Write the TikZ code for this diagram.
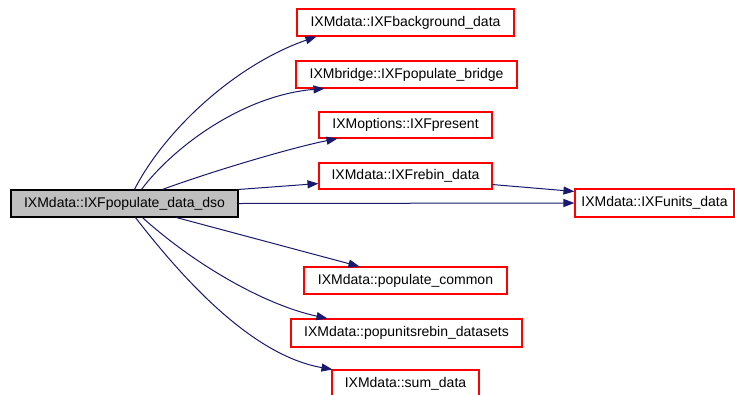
\documentclass[tikz,border=0pt]{standalone}
\usepackage{fontspec}
\setmainfont{Liberation Sans}
\usetikzlibrary{arrows.meta,calc}
\definecolor{edgeblue}{HTML}{191970}
\definecolor{maingray}{HTML}{BFBFBF}
\begin{document}
\begin{tikzpicture}[x=1pt,y=-1pt,
  fn/.style={draw=red,fill=white,line width=1.1pt,inner sep=0pt,minimum height=27pt,
    text height=10pt,text depth=3pt,font=\fontsize{14}{16}\selectfont},
  mainfn/.style={fn,draw=black,fill=maingray},
  call/.style={draw=edgeblue,line width=1pt,-{Triangle[length=11pt,width=8pt]}}]
\useasboundingbox[fill=white] (0,0) rectangle (735,394);
\node[mainfn,minimum width=227pt] (main) at (124.5,203.5) {IXMdata::IXFpopulate\_data\_dso};
\node[fn,minimum width=217pt] (bg) at (405.5,22.5) {IXMdata::IXFbackground\_data};
\node[fn,minimum width=221pt] (bridge) at (406.5,74.5) {IXMbridge::IXFpopulate\_bridge};
\node[fn,minimum width=173pt,minimum height=26pt] (present) at (405.5,125) {IXMoptions::IXFpresent};
\node[fn,minimum width=173pt,minimum height=26pt] (rebin) at (405.5,176) {IXMdata::IXFrebin\_data};
\node[fn,minimum width=159pt,minimum height=28pt] (units) at (654.5,203) {IXMdata::IXFunits\_data};
\node[fn,minimum width=203pt] (common) at (405.5,280.5) {IXMdata::populate\_common};
\node[fn,minimum width=231pt,minimum height=28pt] (popunits) at (406.5,333) {IXMdata::popunitsrebin\_datasets};
\node[fn,minimum width=147pt] (sum) at (405.5,383.5) {IXMdata::sum\_data};

\draw[call] ($(main.north west)+(124,0)$) .. controls (165,130) and (235,65) .. ($(bg.south west)+(20,0)$);
\draw[call] ($(main.north west)+(131,0)$) .. controls (175,145) and (245,95) .. ($(bridge.south west)+(29,0)$);
\draw[call] ($(main.north west)+(152,0)$) .. controls (210,172) and (290,148) .. ($(present.south west)+(19,0)$);
\draw[call] (main.north east) -- ($(rebin.south west)+(0,-6)$);
\draw[call] (main.east) -- (units.west);
\draw[call] ($(rebin.south east)+(0,-5)$) -- ($(units.north west)+(0,3)$);
\draw[call] ($(main.south west)+(166,0)$) -- ($(common.north west)+(56,0)$);
\draw[call] ($(main.south west)+(132,0)$) .. controls (195,265) and (265,305) .. ($(popunits.north west)+(37,0)$);
\draw[call] ($(main.south west)+(125,0)$) .. controls (180,275) and (250,355) .. ($(sum.north west)+(1,0)$);
\end{tikzpicture}
\end{document}
